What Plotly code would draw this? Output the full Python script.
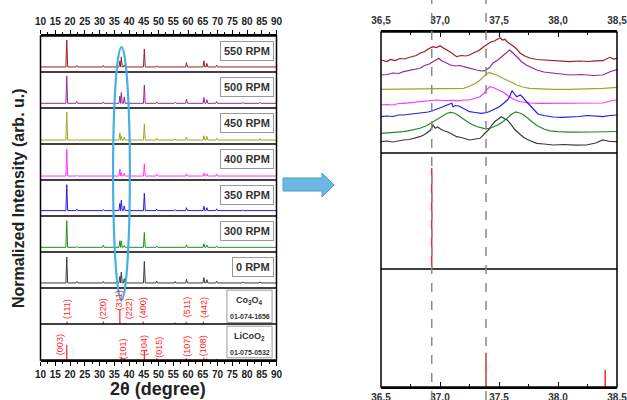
import plotly.graph_objects as go

W, H = 627, 400

# ---------------- data ----------------
LEFT_TICKS = list(range(10, 95, 5))
RIGHT_TICKS = [36.5, 37.0, 37.5, 38.0, 38.5]
RIGHT_TICK_TEXT = ["36,5", "37,0", "37,5", "38,0", "38,5"]

SAMPLES = ["550 RPM", "500 RPM", "450 RPM", "400 RPM", "350 RPM", "300 RPM", "0 RPM"]
COLORS = ["#a01c1c", "#932a93", "#a3a32a", "#ff33ff", "#1f1fe6", "#238b23", "#3a3a3a"]
PANEL = [8, 7, 6, 5, 4, 3, 2]          # panel slot (bottom = 0)

# peak positions (2theta) and per-sample heights above baseline (panel units)
PEAK_POS = [18.9, 22.3, 31.3, 36.9, 37.4, 38.4, 45.2, 49.4, 55.6, 59.5, 65.4, 66.4, 69.7, 78.6, 84.4]
BASELINE = [0.14, 0.13, 0.11, 0.11, 0.15, 0.13, 0.14]
HEIGHTS = [
    [0.75, 0.04, 0.04, 0.16, 0.28, 0.06, 0.50, 0.03, 0.02, 0.12, 0.17, 0.10, 0.05, 0.02, 0.02],
    [0.76, 0.05, 0.04, 0.20, 0.30, 0.18, 0.51, 0.04, 0.03, 0.12, 0.16, 0.10, 0.05, 0.02, 0.03],
    [0.78, 0.02, 0.02, 0.20, 0.10, 0.08, 0.45, 0.05, 0.03, 0.08, 0.12, 0.10, 0.05, 0.02, 0.04],
    [0.75, 0.02, 0.02, 0.19, 0.09, 0.08, 0.34, 0.05, 0.02, 0.06, 0.08, 0.06, 0.05, 0.02, 0.02],
    [0.72, 0.04, 0.03, 0.20, 0.29, 0.13, 0.48, 0.04, 0.03, 0.08, 0.12, 0.08, 0.05, 0.02, 0.02],
    [0.74, 0.02, 0.06, 0.18, 0.18, 0.05, 0.41, 0.04, 0.02, 0.07, 0.10, 0.06, 0.04, 0.02, 0.02],
    [0.72, 0.04, 0.04, 0.18, 0.30, 0.12, 0.60, 0.05, 0.04, 0.10, 0.15, 0.09, 0.05, 0.03, 0.03],
]

# reference patterns (stick positions and heights, panel units)
CO3O4_POS = [19.0, 31.3, 36.9, 38.5, 44.8, 55.6, 59.4, 65.2]
CO3O4_H = [0.07, 0.07, 0.39, 0.03, 0.07, 0.04, 0.06, 0.06]
CO3O4_HKL = ["(111)", "(220)", "(311)", "(222)", "(400)", "(511)", "(442)"]
CO3O4_HKL_X = [19.0, 31.3, 36.6, 39.8, 45.0, 59.9, 65.6]
CO3O4_HKL_Y = [1.42, 1.42, 1.65, 1.42, 1.46, 1.46, 1.46]

LICOO2_POS = [18.9, 37.4, 38.4, 45.2, 49.4, 59.4, 65.4, 66.3, 69.6]
LICOO2_H = [0.42, 0.08, 0.03, 0.28, 0.04, 0.05, 0.06, 0.04, 0.03]
LICOO2_HKL = ["(003)", "(101)", "(104)", "(015)", "(107)", "(108)"]
LICOO2_HKL_X = [16.6, 38.1, 45.1, 50.3, 59.6, 65.2]
LICOO2_HKL_Y = [0.44, 0.30, 0.39, 0.35, 0.39, 0.39]

# zoomed region 36.5-38.5 (stacked intensities, arbitrary units)
ZOOM_550 = [(36.50,9.30),(36.55,9.15),(36.58,9.35),(36.62,9.25),(36.66,9.45),(36.70,9.40),(36.75,9.60),
            (36.80,9.75),(36.83,9.97),(36.87,10.15),(36.90,10.40),(36.94,10.63),(36.97,10.55),(37.00,10.73),
            (37.03,10.50),(37.06,10.30),(37.10,10.00),(37.14,9.63),(37.18,9.75),(37.22,9.70),(37.25,9.80),
            (37.29,10.05),(37.33,10.25),(37.37,10.63),(37.40,10.85),(37.43,11.10),(37.46,11.20),(37.49,11.40),
            (37.51,11.53),(37.53,11.30),(37.55,11.37),(37.57,11.10),(37.59,10.97),(37.62,10.70),(37.65,10.40),
            (37.68,9.97),(37.72,9.70),(37.76,9.50),(37.82,9.35),(37.88,9.30),(37.95,9.25),(38.00,9.20),
            (38.05,9.10),(38.10,9.13),(38.18,9.20),(38.25,9.15),(38.32,9.22),(38.38,9.23),(38.44,9.57),
            (38.47,9.40),(38.50,9.47)]
ZOOM_500 = [(36.50,7.80),(36.55,7.85),(36.60,8.00),(36.65,7.95),(36.69,8.13),(36.75,8.25),(36.80,8.35),
            (36.83,8.47),(36.87,8.75),(36.91,8.90),(36.94,9.13),(36.97,9.30),(36.99,9.47),(37.01,9.25),
            (37.03,9.13),(37.06,8.95),(37.09,8.80),(37.13,8.70),(37.17,8.75),(37.20,8.63),(37.25,8.45),
            (37.31,8.30),(37.35,8.20),(37.38,8.23),(37.42,8.55),(37.45,9.00),(37.49,9.30),(37.52,9.63),
            (37.55,9.90),(37.57,10.13),(37.59,10.30),(37.61,10.10),(37.65,9.63),(37.69,9.15),(37.73,8.80),
            (37.78,8.50),(37.82,8.30),(37.88,8.10),(37.96,7.97),(38.03,7.85),(38.10,7.80),(38.20,7.85),
            (38.30,7.75),(38.38,7.80),(38.44,8.13),(38.50,8.35)]
ZOOM_450 = [(36.50,6.37),(36.70,6.40),(36.90,6.37),(37.00,6.40),(37.10,6.42),(37.20,6.47),(37.25,6.70),
            (37.30,6.95),(37.34,7.30),(37.37,7.65),(37.40,7.97),(37.42,8.03),(37.45,7.95),(37.48,7.80),
            (37.52,7.55),(37.57,7.30),(37.61,7.05),(37.65,6.80),(37.70,6.60),(37.76,6.47),(37.85,6.40),
            (37.96,6.37),(38.10,6.37),(38.25,6.40),(38.38,6.47),(38.50,6.57)]
ZOOM_400 = [(36.50,4.80),(36.55,4.85),(36.60,4.80),(36.65,4.95),(36.69,4.97),(36.75,5.05),(36.80,5.10),
            (36.86,5.20),(36.92,5.25),(36.97,5.30),(37.03,5.25),(37.08,5.30),(37.11,5.27),(37.15,5.22),
            (37.20,5.30),(37.25,5.30),(37.30,5.45),(37.34,5.63),(37.37,5.95),(37.40,6.30),(37.42,6.63),
            (37.45,6.55),(37.48,6.40),(37.51,6.25),(37.54,6.05),(37.58,5.70),(37.62,5.40),(37.67,5.15),
            (37.71,5.05),(37.76,5.00),(37.85,4.97),(37.96,4.97),(38.10,4.95),(38.25,5.00),(38.38,5.00),
            (38.44,5.20),(38.50,5.30)]
ZOOM_350 = [(36.50,3.63),(36.55,3.70),(36.60,3.65),(36.65,3.80),(36.69,3.80),(36.75,3.90),(36.80,3.95),
            (36.85,4.05),(36.90,4.10),(36.94,4.25),(36.98,4.40),(37.02,4.60),(37.06,4.80),(37.08,4.90),
            (37.10,4.97),(37.11,4.63),(37.13,4.75),(37.16,4.70),(37.20,4.45),(37.25,4.13),(37.30,4.05),
            (37.35,3.97),(37.40,4.05),(37.45,4.30),(37.50,4.60),(37.54,4.97),(37.57,5.30),(37.59,5.63),
            (37.61,6.23),(37.63,5.90),(37.65,5.63),(37.68,5.80),(37.70,5.60),(37.72,5.30),(37.75,4.90),
            (37.79,4.40),(37.83,3.90),(37.88,3.75),(37.96,3.60),(38.03,3.57),(38.10,3.60),(38.18,3.65),
            (38.25,3.75),(38.32,3.65),(38.38,3.63),(38.44,3.75),(38.50,3.80)]
ZOOM_300 = [(36.50,1.97),(36.60,2.03),(36.69,2.13),(36.76,2.28),(36.83,2.47),(36.89,2.75),(36.94,3.13),
            (36.99,3.50),(37.03,3.80),(37.06,3.98),(37.09,4.07),(37.12,4.00),(37.15,3.80),(37.20,3.40),
            (37.25,2.97),(37.31,2.65),(37.37,2.47),(37.42,2.45),(37.45,2.60),(37.50,2.85),(37.54,3.20),
            (37.58,3.60),(37.61,3.90),(37.64,4.10),(37.68,3.98),(37.71,3.80),(37.76,3.30),(37.82,2.75),
            (37.88,2.40),(37.93,2.22),(38.00,2.13),(38.10,2.08),(38.30,2.10),(38.50,2.15)]
ZOOM_0 = [(36.50,1.13),(36.55,1.20),(36.60,1.10),(36.65,1.25),(36.69,1.30),(36.74,1.35),(36.79,1.50),
          (36.83,1.63),(36.87,1.85),(36.90,2.10),(36.92,2.30),(36.94,2.80),(36.96,2.47),(36.98,2.60),
          (37.01,2.35),(37.04,2.20),(37.06,2.13),(37.10,1.90),(37.14,1.63),(37.18,1.55),(37.22,1.40),
          (37.25,1.30),(37.30,1.40),(37.34,1.47),(37.38,1.97),(37.41,2.30),(37.44,2.80),(37.47,3.20),
          (37.49,3.35),(37.52,3.63),(37.55,3.40),(37.57,3.30),(37.60,2.90),(37.63,2.40),(37.67,1.95),
          (37.71,1.55),(37.76,1.25),(37.82,0.97),(37.88,0.90),(37.96,0.80),(38.05,0.85),(38.15,0.78),
          (38.24,0.80),(38.32,1.00),(38.38,1.30),(38.44,1.15),(38.50,1.13)]
ZOOM_SERIES = [ZOOM_550, ZOOM_500, ZOOM_450, ZOOM_400, ZOOM_350, ZOOM_300, ZOOM_0]

ZOOM_CO3O4_POS = [36.93]
ZOOM_CO3O4_H = [0.87]
ZOOM_LICOO2_POS = [37.39, 38.40]
ZOOM_LICOO2_H = [0.29, 0.145]
GUIDE_LINES = [36.93, 37.39]

# ---------------- figure ----------------
RED = "#ff2424"
fig = go.Figure()

PEAK_HW = 0.3
for name, col, slot, base, hts in zip(SAMPLES, COLORS, PANEL, BASELINE, HEIGHTS):
    xs, ys = [10.0], [slot + base]
    for p, h in zip(PEAK_POS, hts):
        xs += [p - PEAK_HW, p, p + PEAK_HW]
        ys += [slot + base, slot + base + h, slot + base]
    xs.append(90.0)
    ys.append(slot + base)
    fig.add_trace(go.Scatter(x=xs, y=ys, mode="lines", line=dict(color=col, width=1),
                             xaxis="x", yaxis="y", hoverinfo="skip", name=name))


def sticks(pos, hts, base):
    xs, ys = [], []
    for p, h in zip(pos, hts):
        xs += [p, p, None]
        ys += [base, base + h, None]
    return xs, ys


sx, sy = sticks(CO3O4_POS, CO3O4_H, 1)
fig.add_trace(go.Scatter(x=sx, y=sy, mode="lines", line=dict(color=RED, width=1.2),
                         xaxis="x", yaxis="y", hoverinfo="skip"))
sx, sy = sticks(LICOO2_POS, LICOO2_H, 0)
fig.add_trace(go.Scatter(x=sx, y=sy, mode="lines", line=dict(color=RED, width=1.2),
                         xaxis="x", yaxis="y", hoverinfo="skip"))

for series, col in zip(ZOOM_SERIES, COLORS):
    fig.add_trace(go.Scatter(x=[p[0] for p in series], y=[p[1] for p in series], mode="lines",
                             line=dict(color=col, width=1.2), xaxis="x3", yaxis="y4", hoverinfo="skip"))

sx, sy = sticks(ZOOM_CO3O4_POS, ZOOM_CO3O4_H, 0)
fig.add_trace(go.Scatter(x=sx, y=sy, mode="lines", line=dict(color=RED, width=1.5),
                         xaxis="x3", yaxis="y5", hoverinfo="skip"))
sx, sy = sticks(ZOOM_LICOO2_POS, ZOOM_LICOO2_H, 0)
fig.add_trace(go.Scatter(x=sx, y=sy, mode="lines", line=dict(color=RED, width=1.5),
                         xaxis="x3", yaxis="y6", hoverinfo="skip"))

# invisible traces so that the top (overlaying) axes are drawn
fig.add_trace(go.Scatter(x=[50], y=[0], mode="markers", marker=dict(opacity=0),
                         xaxis="x2", yaxis="y", hoverinfo="skip"))
fig.add_trace(go.Scatter(x=[37.5], y=[0], mode="markers", marker=dict(opacity=0),
                         xaxis="x4", yaxis="y4", hoverinfo="skip"))

LTICK = dict(family="Liberation Sans, Arial, sans-serif", size=10, color="#222", weight="bold")
RTICK = dict(family="Liberation Sans, Arial, sans-serif", size=10, color="#333", weight="bold")

left_x_common = dict(range=[10, 90], tickvals=LEFT_TICKS, ticks="outside", ticklen=4, tickwidth=1,
                     tickcolor="black", showline=True, linecolor="black", linewidth=1.5,
                     minor=dict(dtick=2.5, ticks="outside", ticklen=2, tickcolor="black"),
                     tickfont=LTICK, showgrid=False, zeroline=False, automargin=False,
                     ticklabeloverflow="allow")
right_x_common = dict(range=[36.5, 38.5], tickvals=RIGHT_TICKS, ticktext=RIGHT_TICK_TEXT,
                      ticks="inside", ticklen=5, tickwidth=1, tickcolor="black",
                      showline=True, linecolor="black", linewidth=1.5,
                      minor=dict(dtick=0.25, ticks="inside", ticklen=3, tickcolor="black"),
                      tickfont=RTICK, showgrid=False, zeroline=False, automargin=False,
                      ticklabeloverflow="allow")

fig.update_layout(
    width=W, height=H, margin=dict(l=0, r=0, t=0, b=0, autoexpand=False),
    paper_bgcolor="white", plot_bgcolor="rgba(0,0,0,0)", showlegend=False,
    xaxis=dict(domain=[40.5 / W, 276.5 / W], anchor="y", **left_x_common),
    xaxis2=dict(overlaying="x", side="top", anchor="y", ticklabelstandoff=1, **left_x_common),
    yaxis=dict(domain=[1 - 360 / H, 1 - 36 / H], range=[0, 9], visible=False, anchor="x"),
    xaxis3=dict(domain=[381 / W, 617 / W], anchor="y6", **right_x_common),
    xaxis4=dict(overlaying="x3", side="top", anchor="y4", ticklabelstandoff=2, **right_x_common),
    yaxis4=dict(domain=[1 - 153 / H, 1 - 32 / H], range=[0, 12.1], visible=False, anchor="x3"),
    yaxis5=dict(domain=[1 - 269 / H, 1 - 153 / H], range=[0, 1], visible=False, anchor="x3"),
    yaxis6=dict(domain=[1 - 387 / H, 1 - 269 / H], range=[0, 1], visible=False, anchor="x3"),
)

shapes = []
# left frame + panel dividers
shapes.append(dict(type="rect", xref="x domain", yref="y domain", x0=0, x1=1, y0=0, y1=1,
                   line=dict(color="black", width=1.5)))
for k in range(1, 9):
    shapes.append(dict(type="line", xref="x domain", yref="y", x0=0, x1=1, y0=k, y1=k,
                       line=dict(color="black", width=1.5)))
# reference card boxes
shapes.append(dict(type="rect", xref="x", yref="y", x0=73.2, x1=88.5, y0=1.04, y1=1.94,
                   line=dict(color="#999", width=1), fillcolor="white", layer="below"))
shapes.append(dict(type="rect", xref="x", yref="y", x0=73.2, x1=88.5, y0=0.06, y1=0.94,
                   line=dict(color="#999", width=1), fillcolor="white", layer="below"))
# blue ellipse
shapes.append(dict(type="circle", xref="x", yref="y", x0=34.6, x1=40.3, y0=1.67, y1=8.69,
                   line=dict(color="#45b0e5", width=2.2)))
# right frame + dividers
shapes.append(dict(type="rect", xref="x3 domain", yref="paper", x0=0, x1=1, y0=1 - 387 / H, y1=1 - 32 / H,
                   line=dict(color="black", width=1.5)))
for py in (153, 269):
    shapes.append(dict(type="line", xref="x3 domain", yref="paper", x0=0, x1=1, y0=1 - py / H, y1=1 - py / H,
                       line=dict(color="black", width=1.5)))
for gx in GUIDE_LINES:
    shapes.append(dict(type="line", xref="x3", yref="paper", x0=gx, x1=gx, y0=0, y1=1,
                       line=dict(color="#8a8a8a", width=1.5, dash="dash")))
# arrow
pts = [(283, 178), (322, 178), (322, 173), (334, 185), (322, 197), (322, 191), (283, 191)]
path = "M " + " L ".join(f"{x / W:.4f},{1 - y / H:.4f}" for x, y in pts) + " Z"
shapes.append(dict(type="path", xref="paper", yref="paper", path=path,
                   fillcolor="#6db8e3", line=dict(color="#4f9ccb", width=1)))
fig.update_layout(shapes=shapes)

ann = []
FONT_B = "Liberation Sans, Arial, sans-serif"
for name, slot in zip(SAMPLES, PANEL):
    ann.append(dict(x=89.15, y=slot + 0.57, xref="x", yref="y", text=name, showarrow=False,
                    xanchor="right", yanchor="middle", bgcolor="white", bordercolor="#999",
                    borderwidth=1, borderpad=3,
                    font=dict(family=FONT_B, size=11, color="#333", weight="bold")))
for t, x, y in zip(CO3O4_HKL, CO3O4_HKL_X, CO3O4_HKL_Y):
    ann.append(dict(x=x, y=y, xref="x", yref="y", text=t, showarrow=False, textangle=-90,
                    xanchor="center", yanchor="middle",
                    font=dict(family=FONT_B, size=9, color=RED)))
for t, x, y in zip(LICOO2_HKL, LICOO2_HKL_X, LICOO2_HKL_Y):
    ann.append(dict(x=x, y=y, xref="x", yref="y", text=t, showarrow=False, textangle=-90,
                    xanchor="center", yanchor="middle",
                    font=dict(family=FONT_B, size=9, color=RED)))
ann.append(dict(x=81.0, y=1.64, xref="x", yref="y", text="Co<sub>3</sub>O<sub>4</sub>", showarrow=False,
                xanchor="center", yanchor="middle",
                font=dict(family=FONT_B, size=9, color="#333", weight="bold")))
ann.append(dict(x=81.0, y=1.22, xref="x", yref="y", text="01-074-1656", showarrow=False,
                xanchor="center", yanchor="middle",
                font=dict(family=FONT_B, size=7, color="#333", weight="bold")))
ann.append(dict(x=81.0, y=0.64, xref="x", yref="y", text="LiCoO<sub>2</sub>", showarrow=False,
                xanchor="center", yanchor="middle",
                font=dict(family=FONT_B, size=9, color="#333", weight="bold")))
ann.append(dict(x=81.0, y=0.22, xref="x", yref="y", text="01-075-0532", showarrow=False,
                xanchor="center", yanchor="middle",
                font=dict(family=FONT_B, size=7, color="#333", weight="bold")))
ann.append(dict(x=18 / W, y=1 - 198 / H, xref="paper", yref="paper", text="Normalized Intensity (arb. u.)",
                showarrow=False, textangle=-90, xanchor="center", yanchor="middle",
                font=dict(family=FONT_B, size=16, color="#222", weight="bold")))
ann.append(dict(x=158 / W, y=1 - 389 / H, xref="paper", yref="paper", text="2θ (degree)",
                showarrow=False, xanchor="center", yanchor="middle",
                font=dict(family=FONT_B, size=18, color="#222", weight="bold")))
fig.update_layout(annotations=ann)

fig.write_html("out.html", config={"displayModeBar": False},
               post_script="document.body.style.margin='0';document.body.style.overflow='hidden';")
